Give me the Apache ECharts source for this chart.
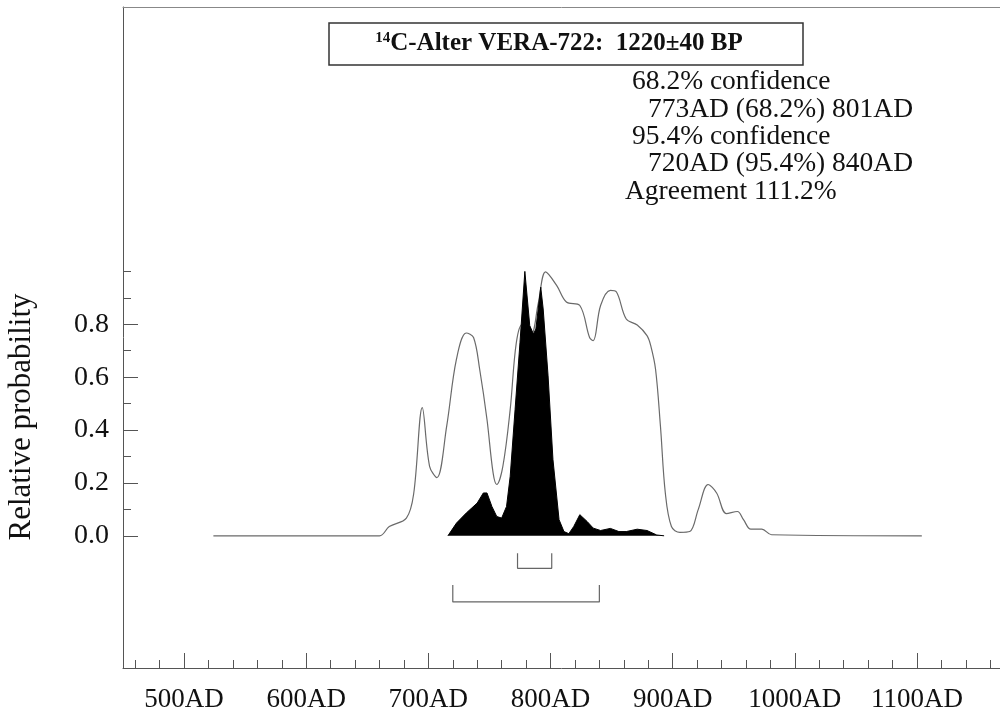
<!DOCTYPE html>
<html>
<head>
<meta charset="utf-8">
<script src="https://cdn.jsdelivr.net/npm/echarts@6/dist/echarts.min.js"></script>
<style>
  html, body { margin: 0; padding: 0; background: #fff; }
  #chart { width: 1000px; height: 715px; }
</style>
</head>
<body>
<div id="chart"></div>
<script>
const FONT = "'Liberation Serif', 'Times New Roman', serif";

// calendar years / relative probability
const likelihoodYears = [524, 660, 668, 682, 688, 695, 701, 707, 715, 723, 731, 737, 742, 748, 753, 756, 761, 767, 772, 777, 784, 790, 796, 805, 813, 824, 832, 835, 841, 849, 854, 862, 871, 879, 882, 886, 890, 894, 899, 906, 914, 921, 929, 936, 944, 953, 958, 964, 973, 981, 1104];
const likelihoodValues = [0, 0, 0.035, 0.067, 0.16, 0.485, 0.263, 0.22, 0.415, 0.668, 0.767, 0.75, 0.63, 0.44, 0.238, 0.194, 0.263, 0.478, 0.73, 0.8, 0.76, 0.88, 0.998, 0.947, 0.884, 0.871, 0.75, 0.738, 0.871, 0.928, 0.922, 0.82, 0.797, 0.757, 0.72, 0.63, 0.415, 0.162, 0.035, 0.013, 0.016, 0.1, 0.194, 0.162, 0.084, 0.092, 0.061, 0.025, 0.025, 0.004, 0];

const posteriorYears = [716, 723, 731, 740, 745, 748, 752, 756, 760, 764, 767, 771, 775, 779, 783, 786, 788, 792, 794, 798, 802, 807, 811, 815, 819, 824, 830, 835, 841, 849, 856, 862, 871, 879, 887, 893];
const posteriorValues = [0, 0.048, 0.086, 0.124, 0.162, 0.162, 0.111, 0.073, 0.067, 0.111, 0.225, 0.478, 0.73, 1.0, 0.795, 0.763, 0.782, 0.94, 0.858, 0.605, 0.289, 0.061, 0.016, 0.008, 0.035, 0.08, 0.054, 0.029, 0.02, 0.028, 0.016, 0.016, 0.025, 0.02, 0.003, 0];

const range68 = [773, 801];
const range95 = [720, 840];

const majorYears = [500, 600, 700, 800, 900, 1000, 1100];
const minorYears = [460, 480, 520, 540, 560, 580, 620, 640, 660, 680, 720, 740, 760, 780, 820, 840, 860, 880, 920, 940, 960, 980, 1020, 1040, 1060, 1080, 1120, 1140, 1160];
const majorProb = [0, 0.2, 0.4, 0.6, 0.8];
const minorProb = [0.1, 0.3, 0.5, 0.7, 0.9, 1.0];

const infoLines = [
  "68.2% confidence",
  "773AD (68.2%) 801AD",
  "95.4% confidence",
  "720AD (95.4%) 840AD",
  "Agreement 111.2%",
];

const zip = (xs, ys) => xs.map((x, i) => [x, ys[i]]);
const bracket = (r, top, bottom) => [[r[0], top], [r[0], bottom], [r[1], bottom], [r[1], top]];

const X_MIN = 450, X_MAX = 1168, Y_MIN = -0.5, Y_MAX = 2.0;
const axisColor = "#555";
const gridPos = { left: 123, right: 0, top: 7, bottom: 47 };

const chart = echarts.init(document.getElementById("chart"));
chart.setOption({
  backgroundColor: "#fff",
  animation: false,
  grid: [
    Object.assign({}, gridPos),
    Object.assign({}, gridPos),
  ],
  xAxis: [
    {
      type: "value", gridIndex: 0, min: X_MIN, max: X_MAX, position: "bottom",
      axisLine: { onZero: false, lineStyle: { color: axisColor, width: 1 } },
      axisTick: { inside: true, length: 15, customValues: majorYears, lineStyle: { color: axisColor } },
      axisLabel: { customValues: majorYears, formatter: (v) => v + "AD", fontFamily: FONT, fontSize: 27, color: "#111", margin: 18 },
      splitLine: { show: false },
    },
    {
      type: "value", gridIndex: 1, min: X_MIN, max: X_MAX, position: "bottom",
      axisLine: { show: false, onZero: false },
      axisTick: { inside: true, length: 8, customValues: minorYears, lineStyle: { color: axisColor } },
      axisLabel: { show: false },
      splitLine: { show: false },
    },
    {
      type: "value", gridIndex: 1, min: X_MIN, max: X_MAX, position: "top",
      axisLine: { onZero: false, lineStyle: { color: "#888", width: 1 } },
      axisTick: { show: false },
      axisLabel: { show: false },
      splitLine: { show: false },
    },
  ],
  yAxis: [
    {
      type: "value", gridIndex: 0, min: Y_MIN, max: Y_MAX,
      axisLine: { show: true, onZero: false, lineStyle: { color: axisColor, width: 1 } },
      axisTick: { inside: true, length: 15, customValues: majorProb, lineStyle: { color: axisColor } },
      axisLabel: { customValues: majorProb, formatter: (v) => v.toFixed(1), fontFamily: FONT, fontSize: 28, color: "#111", margin: 14 },
      splitLine: { show: false },
    },
    {
      type: "value", gridIndex: 1, min: Y_MIN, max: Y_MAX,
      axisLine: { show: false, onZero: false },
      axisTick: { inside: true, length: 8, customValues: minorProb, lineStyle: { color: axisColor } },
      axisLabel: { show: false },
      splitLine: { show: false },
    },
  ],
  series: [
    {
      type: "line", xAxisIndex: 0, yAxisIndex: 0,
      data: zip(likelihoodYears, likelihoodValues),
      smooth: 0.35, symbol: "none",
      lineStyle: { color: "#6a6a6a", width: 1.2 },
      z: 2,
    },
    {
      type: "line", xAxisIndex: 0, yAxisIndex: 0,
      data: zip(posteriorYears, posteriorValues),
      symbol: "none",
      lineStyle: { color: "#000", width: 1 },
      areaStyle: { color: "#000", opacity: 1 },
      z: 3,
    },
    {
      type: "line", xAxisIndex: 0, yAxisIndex: 0,
      data: bracket(range68, -0.066, -0.123),
      symbol: "none",
      lineStyle: { color: "#666", width: 1.2 },
    },
    {
      type: "line", xAxisIndex: 0, yAxisIndex: 0,
      data: bracket(range95, -0.186, -0.25),
      symbol: "none",
      lineStyle: { color: "#666", width: 1.2 },
    },
  ],
  graphic: [
    {
      type: "rect",
      shape: { x: 329, y: 23, width: 474, height: 42 },
      style: { fill: "#fff", stroke: "#333", lineWidth: 1.5 },
    },
    {
      type: "text",
      x: 559, y: 44,
      style: {
        text: "{sup|14}{b|C-Alter VERA-722:  1220±40 BP}",
        align: "center", verticalAlign: "middle",
        rich: {
          sup: { fontFamily: FONT, fontSize: 15, fontWeight: "bold", fill: "#111", verticalAlign: "top", padding: [0, 0, 12, 0] },
          b: { fontFamily: FONT, fontSize: 25, fontWeight: "bold", fill: "#111" },
        },
      },
    },
    {
      type: "text",
      x: 22, y: 417, rotation: Math.PI / 2,
      style: { text: "Relative probability", fontFamily: FONT, fontSize: 31, fill: "#111", align: "center", verticalAlign: "middle" },
    },
  ].concat(infoLines.map((t, i) => ({
    type: "text",
    x: [632, 648, 632, 648, 625][i],
    y: 82 + i * 27.4,
    style: { text: t, fontFamily: FONT, fontSize: 27.5, fill: "#111", align: "left", verticalAlign: "middle" },
  }))),
});
</script>
</body>
</html>
